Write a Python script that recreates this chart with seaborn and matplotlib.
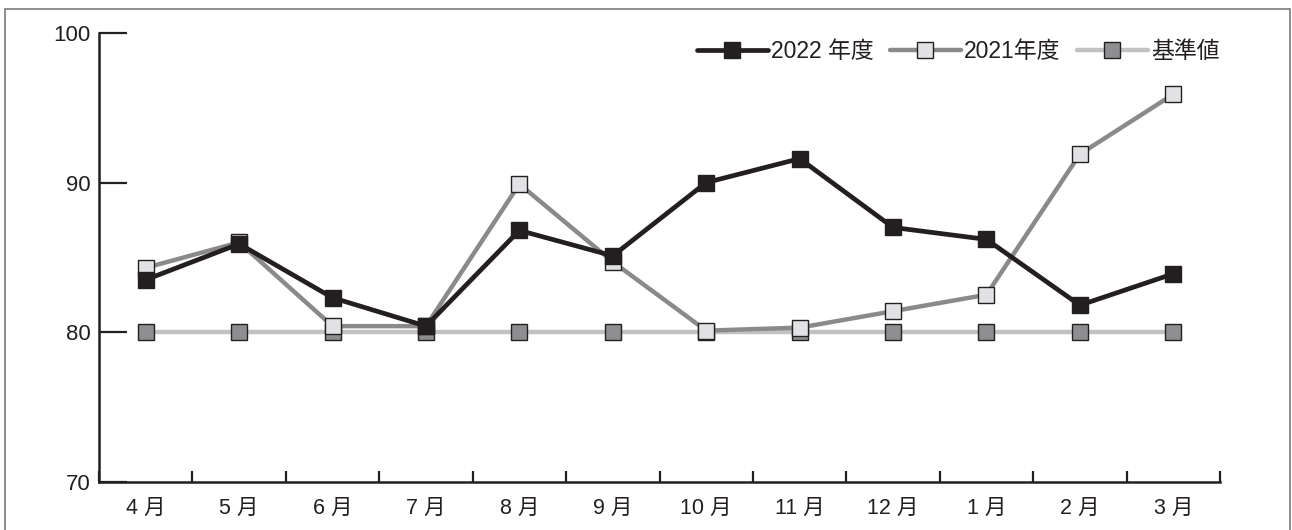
import numpy as np
import pandas as pd
import matplotlib
matplotlib.use("Agg")
import matplotlib.pyplot as plt
from matplotlib.patches import Rectangle
import seaborn as sns

months = ["4 月", "5 月", "6 月", "7 月", "8 月", "9 月",
          "10 月", "11 月", "12 月", "1 月", "2 月", "3 月"]
fy2022 = [83.5, 85.9, 82.3, 80.4, 86.8, 85.1, 90.0, 91.6, 87.0, 86.2, 81.8, 83.9]
fy2021 = [84.3, 86.0, 80.4, 80.4, 89.9, 84.7, 80.1, 80.3, 81.4, 82.5, 91.9, 95.9]
baseline = [80, 80, 80, 80, 80, 80, 80, 80, 80, 80, 80, 80]
series_names = ["2022 年度", "2021年度", "基準値"]
y_ticks = [70, 80, 90, 100]

sns.set_theme(style="white")
plt.rcParams["font.family"] = ["Liberation Sans", "Noto Sans CJK JP", "DejaVu Sans"]

INK = "#231f20"
W, H = 1292, 530
fig = plt.figure(figsize=(W / 100, H / 100), dpi=100)
ax = fig.add_axes([99 / W, 1 - 481.7 / H, (1220 - 99) / W, (481.7 - 33) / H])

x = np.arange(len(months))
df = pd.DataFrame({"pos": x, "fy2022": fy2022, "fy2021": fy2021, "base": baseline})

styles = [
    ("base", series_names[2], "#c2c2c3", "#8e8e90", 1),
    ("fy2021", series_names[1], "#8a8a8c", "#e2e2e4", 2),
    ("fy2022", series_names[0], INK, INK, 3),
]
for col, name, lc, fc, z in styles:
    sns.lineplot(data=df, x="pos", y=col, ax=ax, sort=False, label=name,
                 color=lc, linewidth=3.4 if col == "fy2022" else 3.2,
                 marker="s", markersize=11.5, markerfacecolor=fc,
                 markeredgecolor=INK, markeredgewidth=1.0, zorder=z)

ax.set_xlim(-0.5, 11.5)
ax.set_ylim(70, 100)
ax.set_xlabel("")
ax.set_ylabel("")

ax.set_xticks(x)
ax.set_xticklabels(months)
ax.set_xticks(np.arange(-0.5, 12, 1), minor=True)
ax.tick_params(axis="x", which="major", length=0, pad=12, labelsize=15.5, labelcolor=INK)
ax.tick_params(axis="x", which="minor", direction="in", length=8, width=1.6,
               color=INK, bottom=True)
ax.set_yticks(y_ticks)
ax.tick_params(axis="y", direction="in", length=20, width=1.6, color=INK,
               pad=6, labelsize=16, labelcolor=INK, left=True)

for side in ["top", "right"]:
    ax.spines[side].set_visible(False)
for side in ["left", "bottom"]:
    ax.spines[side].set_color(INK)
    ax.spines[side].set_linewidth(1.8)

handles, labels = ax.get_legend_handles_labels()
order = [labels.index(n) for n in series_names]
leg = ax.legend([handles[i] for i in order], [labels[i] for i in order],
                loc="center right", bbox_to_anchor=(1.0, 0.958), ncol=3,
                frameon=False, fontsize=16.5, handlelength=3.1,
                handletextpad=0.15, columnspacing=0.7, borderpad=0,
                borderaxespad=0, labelcolor=INK)

fig.add_artist(Rectangle((5 / W, -0.05), (1290 - 5) / W, (H - 9) / H + 0.05,
                         transform=fig.transFigure, fill=False,
                         edgecolor="#7a7a7a", linewidth=1.2))

fig.savefig("out.png", dpi=100)
